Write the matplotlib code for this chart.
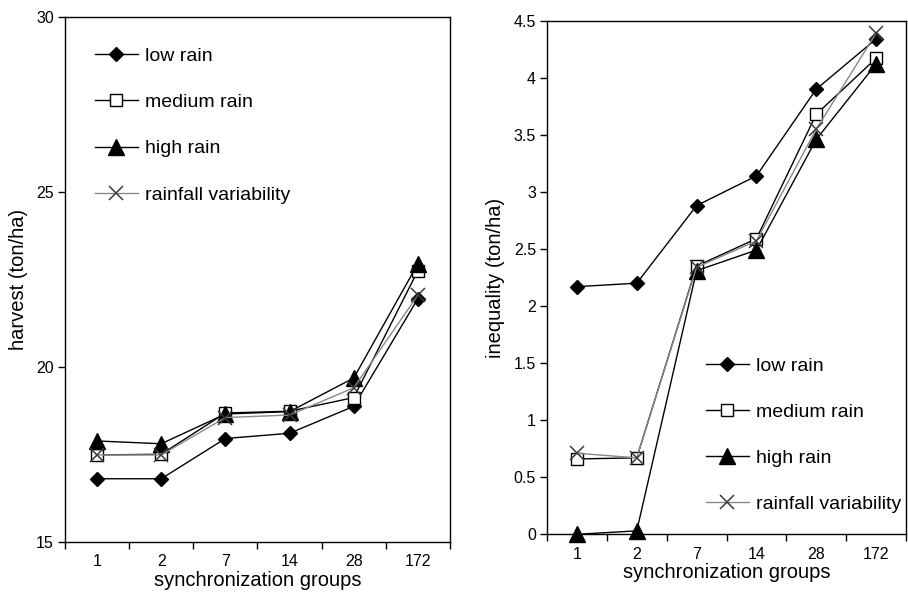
import matplotlib
matplotlib.use("Agg")
import matplotlib.pyplot as plt
import numpy as np

plt.rcParams['font.family'] = ['Liberation Sans', 'DejaVu Sans']

groups = ["1", "2", "7", "14", "28", "172"]
series_names = ["low rain", "medium rain", "high rain", "rainfall variability"]

harvest_low = [16.8, 16.8, 17.95, 18.1, 18.87, 21.95]
harvest_medium = [17.48, 17.5, 18.68, 18.73, 19.12, 22.75]
harvest_high = [17.88, 17.8, 18.65, 18.72, 19.68, 22.95]
harvest_var = [17.48, 17.48, 18.55, 18.62, 19.4, 22.05]

ineq_low = [2.17, 2.2, 2.88, 3.14, 3.9, 4.34]
ineq_medium = [0.66, 0.67, 2.35, 2.59, 3.68, 4.17]
ineq_high = [0.0, 0.03, 2.31, 2.49, 3.46, 4.12]
ineq_var = [0.71, 0.67, 2.34, 2.57, 3.55, 4.39]

styles = [
    dict(marker='D', markersize=7.2, color='black', markerfacecolor='black', markeredgecolor='black'),
    dict(marker='s', markersize=9.2, color='black', markerfacecolor='white', markeredgecolor='black'),
    dict(marker='^', markersize=11, color='black', markerfacecolor='black', markeredgecolor='black'),
    dict(marker='x', markersize=9.5, color='#8a8a8a', markeredgecolor='#3a3a3a', markeredgewidth=1.1),
]

fig = plt.figure(figsize=(9.08, 5.92), dpi=100)
ax1 = fig.add_axes([65/908, (592-541.7)/592, (450-65)/908, (541.7-17)/592])
ax2 = fig.add_axes([547/908, (592-534.3)/592, (906-547)/908, (534.3-20.7)/592])

x = np.arange(len(groups))

def style_axes(ax, ylabel, ylim, yticks, yticklabels):
    for sp in ax.spines.values():
        sp.set_linewidth(1.0)
        sp.set_color('black')
    ax.set_xlim(-0.5, len(groups) - 0.5)
    ax.set_ylim(*ylim)
    ax.set_yticks(yticks)
    ax.set_yticklabels(yticklabels, fontsize=11.5)
    ax.set_xticks(x)
    ax.set_xticklabels(groups, fontsize=11.5)
    ax.tick_params(axis='x', which='major', length=0, pad=9)
    ax.set_xticks(np.arange(-0.5, len(groups)), minor=True)
    ax.tick_params(axis='x', which='minor', length=5, direction='out', width=1)
    ax.tick_params(axis='y', which='major', length=5, direction='out', width=1, pad=3)
    ax.set_xlabel("synchronization groups", fontsize=14.5, labelpad=1)
    ax.set_ylabel(ylabel, fontsize=14.5, labelpad=6)

for vals, name, st in zip([harvest_low, harvest_medium, harvest_high, harvest_var], series_names, styles):
    ax1.plot(x, vals, linewidth=1.0, label=name, clip_on=False, **st)
for vals, name, st in zip([ineq_low, ineq_medium, ineq_high, ineq_var], series_names, styles):
    ax2.plot(x, vals, linewidth=1.0, label=name, clip_on=False, **st)

style_axes(ax1, "harvest (ton/ha)", (15, 30), [15, 20, 25, 30], ["15", "20", "25", "30"])
yt = np.arange(0, 4.51, 0.5)
style_axes(ax2, "inequality (ton/ha)", (0, 4.5), yt, ["0", "0.5", "1", "1.5", "2", "2.5", "3", "3.5", "4", "4.5"])

leg_kw = dict(frameon=False, fontsize=14, handlelength=2.2, handletextpad=0.35,
              labelspacing=1.47, borderpad=0, borderaxespad=0, loc='upper left')
ax1.legend(bbox_to_anchor=(0.078, 0.942), **leg_kw)
ax2.legend(bbox_to_anchor=(0.443, 0.345), **leg_kw)

fig.savefig("out.png", dpi=100)
